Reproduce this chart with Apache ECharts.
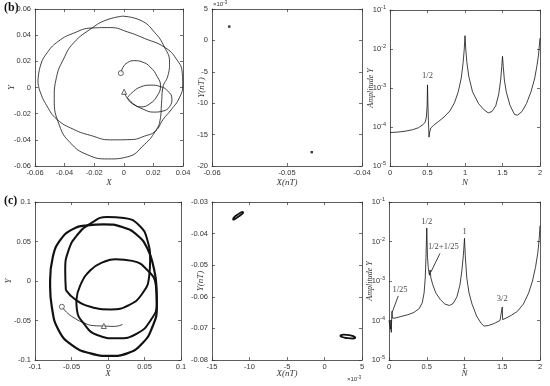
<!DOCTYPE html>
<html><head><meta charset="utf-8">
<script src="https://cdn.jsdelivr.net/npm/echarts@6/dist/echarts.min.js"></script>
<style>html,body{margin:0;padding:0;background:#fff}#c{width:550px;height:386px}</style>
</head><body><div id="c"></div>
<script>
// ---------- Panel (b) trajectory ----------
const bXTicks = [-0.06, -0.04, -0.02, 0, 0.02, 0.04];
const bYTicks = [-0.06, -0.04, -0.02, 0, 0.02, 0.04, 0.06];
const bLoopA = [[-0.058,0.004],[-0.0565,0.016],[-0.0515,0.027],[-0.044,0.0355],[-0.034,0.0415],[-0.0214,0.0455],[-0.009,0.0458],[0.0025,0.0425],[0.014,0.0375],[0.0275,0.0308],[0.0355,0.0218],[0.0395,0.011],[0.0398,0.002],[0.0375,-0.008],[0.032,-0.017],[0.0265,-0.0245],[0.0214,-0.0333],[0.0139,-0.0372],[0.005,-0.0398],[-0.009,-0.040],[-0.0225,-0.0366],[-0.0339,-0.032],[-0.0452,-0.0243],[-0.052,-0.014],[-0.0566,-0.003],[-0.058,0.004]];
const bLoopB = [[-0.001,0.0545],[0.0116,0.0512],[0.0207,0.0423],[0.0275,0.0308],[0.0309,0.0192],[0.0298,0.009],[0.0264,0.0],[0.0255,-0.012],[0.0245,-0.025],[0.0214,-0.0333],[0.0139,-0.0436],[0.0025,-0.053],[-0.0105,-0.0546],[-0.0248,-0.0513],[-0.0361,-0.0423],[-0.0435,-0.029],[-0.047,-0.0085],[-0.0455,0.0077],[-0.0407,0.0218],[-0.034,0.034],[-0.0214,0.0455],[-0.012,0.0515],[-0.001,0.0545]];
const bInner = [[-0.002,0.011],[-0.0005,0.0155],[0.0025,0.019],[0.007,0.0205],[0.0125,0.0195],[0.018,0.0155],[0.0225,0.0085],[0.0248,0.0013],[0.0225,-0.0065],[0.0175,-0.0125],[0.0115,-0.0148],[0.006,-0.0125],[0.0025,-0.0085],[0.0002,-0.0033]];
const bSmall = [[0.0025,-0.0077],[0.0065,-0.003],[0.0115,0.0005],[0.0184,0.0018],[0.0245,0.0008],[0.0295,-0.0025],[0.0325,-0.0085],[0.031,-0.0145],[0.0265,-0.018],[0.02,-0.0188],[0.013,-0.0165],[0.0065,-0.0125],[0.0025,-0.0077]];
const bStart = [-0.002, 0.011];
const bEnd = [0.0002, -0.0033];

// ---------- Panel (b) Poincare ----------
const pbXTicks = [-0.06, -0.05, -0.04];
const pbYTicks = [-0.02, -0.015, -0.01, -0.005, 0, 0.005];
const pbPoints = [[-0.0577, 0.0022], [-0.0467, -0.0178]];

// ---------- Panel (b) spectrum ----------
const sXTicks = [0, 0.5, 1, 1.5, 2];
const sYTicks = [1e-5, 1e-4, 1e-3, 1e-2, 1e-1];
const bN   = [0,0.1,0.2,0.3,0.38,0.44,0.47,0.485,0.495,0.5,0.505,0.512,0.52,0.53,0.545,0.58,0.65,0.72,0.8,0.86,0.91,0.95,0.975,0.99,1.0,1.01,1.025,1.05,1.1,1.18,1.25,1.31,1.36,1.41,1.45,1.475,1.49,1.5,1.51,1.525,1.55,1.6,1.66,1.7,1.76,1.82,1.88,1.93,1.96,1.98,2.0];
const bAmp = [7.2e-5,7.4e-5,7.8e-5,8.5e-5,9.6e-5,1.15e-4,1.35e-4,1.8e-4,3.5e-4,1.2e-3,4e-4,1.5e-4,5.5e-5,7.5e-5,9.5e-5,1.1e-4,1.4e-4,1.8e-4,2.6e-4,4.2e-4,8e-4,1.8e-3,4.5e-3,1e-2,2.2e-2,1e-2,4.5e-3,2e-3,8e-4,4e-4,2.8e-4,2.3e-4,2.5e-4,3.5e-4,7e-4,1.6e-3,3.5e-3,6.5e-3,3.5e-3,1.6e-3,8e-4,3.6e-4,2.1e-4,2.0e-4,2.5e-4,4e-4,8e-4,1.8e-3,3.8e-3,7e-3,1.9e-2];
const bAnnText = ['1/2'];
const bAnnPos = [[0.5, 2.0e-3]];

// ---------- Panel (c) trajectory ----------
const cXTicks = [-0.1, -0.05, 0, 0.05, 0.1];
const cYTicks = [-0.1, -0.05, 0, 0.05, 0.1];
const cLoop1 = [[-0.0577,-0.0116],[-0.0586,0.0137],[-0.054,0.039],[-0.0425,0.0579],[-0.0241,0.0726],[-0.0011,0.0811],[0.0218,0.0798],[0.0425,0.0705],[0.054,0.0516],[0.0577,0.0263],[0.0563,0.0053],[0.0471,-0.0158],[0.0287,-0.0305],[0.0034,-0.036],[-0.0241,-0.0326],[-0.0448,-0.0234],[-0.0577,-0.0116]];
const cLoop2 = [[-0.0434,-0.0242],[-0.0379,-0.0053],[-0.0241,0.0137],[-0.0057,0.0242],[0.0103,0.0276],[0.0333,0.0255],[0.054,0.0137],[0.0655,-0.0053],[0.0669,-0.0284],[0.0586,-0.0495],[0.0402,-0.0663],[0.0126,-0.0726],[-0.0149,-0.0684],[-0.0333,-0.0537],[-0.0425,-0.0368],[-0.0434,-0.0242]];
const cLoop3 = [[-0.0793,0.0011],[-0.0756,0.0305],[-0.0655,0.0516],[-0.0494,0.065],[-0.0287,0.0705],[-0.0057,0.0718],[0.0195,0.0684],[0.0402,0.0579],[0.054,0.0411],[0.0623,0.0179],[0.0664,-0.0074],[0.0669,-0.0326],[0.0609,-0.0579],[0.0471,-0.0789],[0.0264,-0.0916],[0.0034,-0.0949],[-0.0241,-0.0916],[-0.0494,-0.0811],[-0.0678,-0.0621],[-0.077,-0.0326],[-0.0793,-0.0074],[-0.0793,0.0011]];
const cThin = [[-0.0632,-0.0326],[-0.055,-0.041],[-0.045,-0.0475],[-0.033,-0.053],[-0.02,-0.0565],[-0.0057,-0.057],[0.008,-0.0575],[0.02,-0.055]];
const cStart = [-0.0632, -0.0326];
const cEnd = [-0.0057, -0.057];

// ---------- Panel (c) Poincare ----------
const pcXTicks = [-0.015, -0.01, -0.005, 0, 0.005];
const pcYTicks = [-0.08, -0.07, -0.06, -0.05, -0.04, -0.03];
const pcEll1 = [[-0.0122,-0.0353],[-0.012,-0.0347],[-0.0116,-0.034],[-0.0112,-0.0334],[-0.0109,-0.0331],[-0.01085,-0.0334],[-0.0111,-0.034],[-0.0115,-0.0347],[-0.0119,-0.0353],[-0.01215,-0.0356],[-0.0122,-0.0353]];
const pcEll2 = [[0.0021,-0.0722],[0.0026,-0.072],[0.0033,-0.0721],[0.0039,-0.0725],[0.0041,-0.0729],[0.0038,-0.0732],[0.0031,-0.0731],[0.0025,-0.0728],[0.00215,-0.0725],[0.0021,-0.0722]];

// ---------- Panel (c) spectrum ----------
const cN   = [0,0.01,0.02,0.025,0.03,0.035,0.04,0.045,0.08,0.15,0.25,0.33,0.4,0.44,0.465,0.48,0.49,0.5,0.51,0.52,0.535,0.545,0.555,0.58,0.62,0.68,0.74,0.8,0.85,0.9,0.94,0.965,0.985,1.0,1.01,1.03,1.06,1.1,1.16,1.22,1.26,1.32,1.4,1.47,1.495,1.5,1.505,1.55,1.62,1.7,1.78,1.85,1.9,1.94,1.97,1.99,2.0];
const cAmp = [1.0e-4,9.5e-5,6e-5,1.0e-4,5e-5,1.1e-4,1.7e-4,1.15e-4,1.15e-4,1.25e-4,1.4e-4,1.6e-4,2.0e-4,2.8e-4,5e-4,1.2e-3,4e-3,2.2e-2,4e-3,2.2e-3,1.4e-3,1.9e-3,1.2e-3,8e-4,5e-4,3.4e-4,2.6e-4,2.4e-4,2.7e-4,4e-4,8e-4,1.8e-3,4.5e-3,1.2e-2,4.5e-3,1.2e-3,5e-4,2.6e-4,1.3e-4,8.5e-5,7.2e-5,7.5e-5,8.5e-5,1.0e-4,1.05e-4,2.2e-4,1.05e-4,1.15e-4,1.35e-4,1.7e-4,2.6e-4,5e-4,1e-3,2.2e-3,5e-3,1.2e-2,2.5e-2];
const cAnnText = ['1/2', '1', '1/2+1/25', '1/25', '3/2'];
const cAnnPos = [[0.5, 0.032], [1.0, 0.018], [0.72, 7.4e-3], [0.146, 5.9e-4], [1.5, 3.6e-4]];
const cArrows = [[[0.675, 5.0e-3], [0.556, 1.7e-3]], [[0.123, 4.2e-4], [0.044, 1.65e-4]]];

// ---------- build ----------
const C = '#333';
const SANS = '"Liberation Sans", Arial, sans-serif';
const SERIF = '"Liberation Serif", "Times New Roman", serif';
const grids = [
  {left:35, top:9, width:148, height:157},
  {left:212, top:9, width:150, height:157},
  {left:390, top:10, width:150, height:156},
  {left:35, top:202, width:146, height:158},
  {left:212, top:202, width:150, height:158},
  {left:389, top:202, width:151, height:158}
];
const fmtNum = v => String(+(+v).toFixed(4));
const fmtMilli = v => String(Math.round(v * 1000));
const fmtLog = v => '10{e|' + Math.round(Math.log10(v)) + '}';

function axisPair(gi, ticks, dim, opts) {
  const isX = dim === 'x';
  const base = {
    gridIndex: gi,
    axisLine: {show: true, onZero: false, lineStyle: {color: C, width: 0.8}},
    axisTick: {show: true, inside: true, length: 3, lineStyle: {color: C, width: 0.7}},
    splitLine: {show: false}
  };
  if (opts.log) {
    Object.assign(base, {type: 'log', logBase: 10, min: ticks[0], max: ticks[ticks.length - 1]});
  } else {
    Object.assign(base, {type: 'value', min: ticks[0], max: ticks[ticks.length - 1],
      interval: +(ticks[1] - ticks[0]).toFixed(10)});
  }
  const main = Object.assign({}, base, {
    position: isX ? 'bottom' : 'left',
    axisLabel: {show: true, fontSize: 7.5, color: C, fontFamily: SANS, margin: isX ? 3 : 4,
      showMinLabel: true, showMaxLabel: true,
      formatter: opts.fmt || fmtNum,
      rich: {e: {fontSize: 5.5, fontFamily: SANS, color: C, verticalAlign: 'top', padding: [0, 0, 5, 0]}}},
    name: opts.name, nameLocation: 'middle', nameGap: opts.gap, nameMoveOverlap: false,
    nameTextStyle: {fontFamily: SERIF, fontStyle: 'italic', fontSize: opts.nameSize || 9, color: C}
  });
  const mirror = Object.assign({}, base, {
    position: isX ? 'top' : 'right',
    axisLabel: {show: false}
  });
  return [main, mirror];
}

const xAxes = [], yAxes = [];
function addGrid(gi, xt, yt, xo, yo) {
  xAxes.push(...axisPair(gi, xt, 'x', xo));
  yAxes.push(...axisPair(gi, yt, 'y', yo));
}
addGrid(0, bXTicks, bYTicks, {name: 'X', gap: 12}, {name: 'Y', gap: 19});
addGrid(1, pbXTicks, pbYTicks, {name: 'X(nT)', gap: 12}, {name: 'Y(nT)', gap: 6, fmt: fmtMilli});
addGrid(2, sXTicks, sYTicks, {name: 'N', gap: 12}, {name: 'Amplitude Y', gap: 15, log: true, fmt: fmtLog, nameSize: 8});
addGrid(3, cXTicks, cYTicks, {name: 'X', gap: 9}, {name: 'Y', gap: 22});
addGrid(4, pcXTicks, pcYTicks, {name: 'X(nT)', gap: 9, fmt: fmtMilli}, {name: 'Y(nT)', gap: 7});
addGrid(5, sXTicks, sYTicks, {name: 'N', gap: 9}, {name: 'Amplitude Y', gap: 15, log: true, fmt: fmtLog, nameSize: 8});

function line(gi, data, width, smooth) {
  return {type: 'line', xAxisIndex: 2 * gi, yAxisIndex: 2 * gi, data: data, smooth: smooth ? 0.5 : false,
    symbol: 'none', lineStyle: {color: '#111', width: width}, silent: true, z: 3};
}
function marker(gi, pt, sym, size) {
  return {type: 'scatter', xAxisIndex: 2 * gi, yAxisIndex: 2 * gi, data: [pt], symbol: sym, symbolSize: size,
    itemStyle: {color: '#fff', borderColor: '#111', borderWidth: 0.8}, silent: true, z: 5};
}
function annotations(gi, texts, pos) {
  return {type: 'scatter', xAxisIndex: 2 * gi, yAxisIndex: 2 * gi, symbolSize: 0, silent: true, z: 6,
    data: pos.map((p, i) => ({value: p, label: {show: true, position: 'inside', formatter: texts[i],
      fontFamily: SERIF, fontSize: 8.5, color: '#111'}}))};
}
function arrows(gi, list) {
  return {type: 'line', xAxisIndex: 2 * gi, yAxisIndex: 2 * gi, data: [], silent: true,
    markLine: {silent: true, symbol: ['none', 'arrow'], symbolSize: [0, 7], label: {show: false},
      lineStyle: {color: '#111', width: 0.8, type: 'solid'},
      emphasis: {disabled: true},
      data: list.map(a => [{coord: a[0]}, {coord: a[1]}])}};
}

const series = [
  line(0, bLoopA, 0.8, true), line(0, bLoopB, 0.8, true), line(0, bInner, 0.8, true), line(0, bSmall, 0.8, true),
  marker(0, bStart, 'circle', 5), marker(0, bEnd, 'triangle', 5),
  {type: 'scatter', xAxisIndex: 2, yAxisIndex: 2, data: pbPoints, symbol: 'rect', symbolSize: 2.4,
    itemStyle: {color: '#000'}, silent: true},
  line(2, bN.map((n, i) => [n, bAmp[i]]), 0.8, false),
  annotations(2, bAnnText, bAnnPos),
  line(3, cLoop1, 2.0, true), line(3, cLoop2, 2.0, true), line(3, cLoop3, 2.2, true), line(3, cThin, 0.8, true),
  marker(3, cStart, 'circle', 5), marker(3, cEnd, 'triangle', 5),
  line(4, pcEll1, 1.8, true), line(4, pcEll2, 1.8, true),
  line(5, cN.map((n, i) => [n, cAmp[i]]), 0.8, false),
  annotations(5, cAnnText, cAnnPos),
  arrows(5, cArrows)
];

const chart = echarts.init(document.getElementById('c'), null, {renderer: 'canvas'});
chart.setOption({
  animation: false,
  backgroundColor: '#fff',
  grid: grids,
  xAxis: xAxes,
  yAxis: yAxes,
  series: series,
  graphic: [
    {type: 'text', left: 4, top: 2, style: {text: '(b)', font: 'bold 12px "Liberation Serif", serif', fill: '#111'}},
    {type: 'text', left: 4, top: 195, style: {text: '(c)', font: 'bold 12px "Liberation Serif", serif', fill: '#111'}},
    {type: 'text', left: 213, top: 0, style: {text: '×10{e|-3}', fontFamily: SANS, fontSize: 6, fill: C,
      rich: {e: {fontSize: 4.5, verticalAlign: 'top', padding: [0, 0, 4, 0]}}}},
    {type: 'text', left: 347, top: 375, style: {text: '×10{e|-3}', fontFamily: SANS, fontSize: 6, fill: C,
      rich: {e: {fontSize: 4.5, verticalAlign: 'top', padding: [0, 0, 4, 0]}}}}
  ]
});
</script></body></html>
